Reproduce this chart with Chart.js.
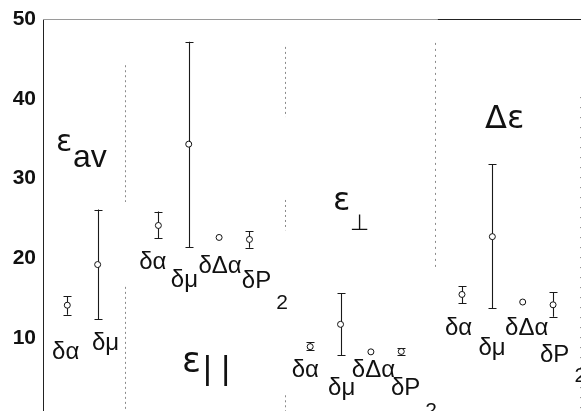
<!DOCTYPE html>
<html><head><meta charset="utf-8">
<script src="https://cdn.jsdelivr.net/npm/chart.js@4"></script>
<style>html,body{margin:0;padding:0;background:#fff}canvas{display:block}</style>
</head><body>
<canvas id="c" width="581" height="411"></canvas>
<script>
// ---------------- data ----------------
const groupNames = ['εav', 'ε||', 'ε⊥', 'Δε'];
const avParams = ['δα', 'δμ'];
const avMean = [14.1, 19.2];
const avLow = [12.9, 12.35];
const avHigh = [15.2, 26.1];
const anisoParams = ['δα', 'δμ', 'δΔα', 'δP2'];
const parMean = [24.1, 34.3, 22.6, 22.35];
const parLow = [22.5, 21.35, null, 21.3];
const parHigh = [25.85, 47.15, null, 23.4];
const perpMean = [8.9, 11.7, 8.25, 8.3];
const perpLow = [8.5, 7.85, null, 7.9];
const perpHigh = [9.5, 15.6, null, 8.7];
const deltaMean = [15.45, 22.7, 14.5, 14.15];
const deltaLow = [14.35, 13.7, null, 12.65];
const deltaHigh = [16.45, 31.75, null, 15.7];
const yTicks = [10, 20, 30, 40, 50];

// ---------------- layout (not data) ----------------
const groups = [
  {params: avParams, mean: avMean, low: avLow, high: avHigh},
  {params: anisoParams, mean: parMean, low: parLow, high: parHigh},
  {params: anisoParams, mean: perpMean, low: perpLow, high: perpHigh},
  {params: anisoParams, mean: deltaMean, low: deltaLow, high: deltaHigh}
];
const pointLabelPos = [
  [-0.50, 7.35, 0], [0.81, 8.48, 0],
  [2.37, 18.58, 0], [3.41, 16.42, 0], [4.32, 18.1, 0], [5.75, 16.3, 21],
  [7.39, 5.13, 0], [8.59, 2.84, 0], [9.37, 5.13, 0], [10.66, 2.84, 22],
  [12.44, 10.36, 0], [13.54, 7.85, 0], [14.42, 10.36, 0], [15.57, 7.01, 20]
];
const GREEK = "'DejaVu Sans', sans-serif";
const titleLayout = [
  {x: -0.37, y: 33.44, main: 'ε', sub: 'av', mainSize: 30, subSize: 32, dx: 17, dy: 16},
  {x: 3.78, y: 5.72, main: 'ε', sub: '| |', mainSize: 35, subSize: 34, dx: 21, dy: 7},
  {x: 8.75, y: 26.04, main: 'ε', sub: '⊥', mainSize: 32, subSize: 22, dx: 17, dy: 20},
  {x: 13.76, y: 36.33, main: 'Δε', sub: '', mainSize: 32, subSize: 20, dx: 0, dy: 0}
];
const separators = [
  {x: 1.90, segs: [[44.2, 27.05], [16.4, 0.83]], dash: [2, 3]},
  {x: 7.17, segs: [[46.5, 37.7], [27.3, 23.5], [2.8, 0.83]], dash: [2, 3]},
  {x: 12.11, segs: [[47.0, 18.9]], dash: [2, 4]},
  {x: 16.89, segs: [[40.2, 0.83]], dash: [1, 9]}
];

const pts = [];
const labels = [];
let slot = 0;
groups.forEach((g) => {
  g.mean.forEach((m, i) => {
    pts.push({x: slot + i, y: m, lo: g.low[i], hi: g.high[i]});
    labels.push(g.params[i]);
  });
  slot += g.mean.length + 1;
});

const FONT = "'Liberation Sans', Arial, sans-serif";

const decor = {
  id: 'decor',
  beforeDatasetsDraw(chart) {
    const {ctx, chartArea: a, scales: {x, y}} = chart;
    ctx.save();
    ctx.strokeStyle = '#8a8a8a';
    ctx.lineWidth = 1;
    separators.forEach(s => {
      ctx.setLineDash(s.dash);
      const px = Math.round(x.getPixelForValue(s.x)) + 0.5;
      s.segs.forEach(([t, b]) => {
        ctx.beginPath();
        ctx.moveTo(px, y.getPixelForValue(t));
        ctx.lineTo(px, y.getPixelForValue(b));
        ctx.stroke();
      });
    });
    ctx.setLineDash([]);
    ctx.strokeStyle = '#9a9a9a';
    ctx.beginPath();
    ctx.moveTo(a.left, a.top + 0.5);
    ctx.lineTo(x.getPixelForValue(12.2), a.top + 0.5);
    ctx.stroke();
    ctx.strokeStyle = '#222';
    ctx.beginPath();
    ctx.moveTo(x.getPixelForValue(12.2), a.top + 0.5);
    ctx.lineTo(a.right, a.top + 0.5);
    ctx.stroke();
    ctx.strokeStyle = '#1a1a1a';
    ctx.lineWidth = 1.1;
    pts.forEach(p => {
      if (p.lo == null || p.hi == null) return;
      const px = Math.round(x.getPixelForValue(p.x)) + 0.5;
      const yl = y.getPixelForValue(p.lo), yh = y.getPixelForValue(p.hi);
      ctx.beginPath();
      ctx.moveTo(px, yl); ctx.lineTo(px, yh);
      ctx.moveTo(px - 4, Math.round(yl) + 0.5); ctx.lineTo(px + 4, Math.round(yl) + 0.5);
      ctx.moveTo(px - 4, Math.round(yh) + 0.5); ctx.lineTo(px + 4, Math.round(yh) + 0.5);
      ctx.stroke();
    });
    ctx.restore();
  },
  afterDraw(chart) {
    const {ctx, scales: {x, y}} = chart;
    ctx.save();
    ctx.fillStyle = '#111';
    ctx.textBaseline = 'alphabetic';
    ctx.textAlign = 'left';
    labels.forEach((t, i) => {
      const [k, v, drop] = pointLabelPos[i];
      const px = x.getPixelForValue(k), py = y.getPixelForValue(v);
      let main = t, sub = '';
      if (/\d$/.test(t)) { main = t.slice(0, -1); sub = t.slice(-1); }
      ctx.font = '24px ' + FONT;
      ctx.fillText(main, px, py);
      if (sub) {
        const w = ctx.measureText(main).width;
        ctx.font = '21px ' + FONT;
        ctx.fillText(sub, px + w + 5, py + drop);
      }
    });
    titleLayout.forEach((t) => {
      const px = x.getPixelForValue(t.x), py = y.getPixelForValue(t.y);
      ctx.font = t.mainSize + 'px ' + GREEK;
      ctx.fillText(t.main, px, py);
      if (t.sub) {
        ctx.font = t.subSize + 'px ' + (t.sub === '⊥' ? GREEK : FONT);
        ctx.fillText(t.sub, px + t.dx, py + t.dy);
      }
    });
    ctx.restore();
  }
};

new Chart(document.getElementById('c'), {
  type: 'scatter',
  data: {
    datasets: [{
      data: pts,
      pointRadius: 3,
      pointHoverRadius: 3,
      pointBackgroundColor: '#fff',
      pointBorderColor: '#111',
      pointBorderWidth: 1
    }]
  },
  options: {
    responsive: false,
    devicePixelRatio: 1,
    animation: false,
    layout: {autoPadding: false, padding: {top: 19, right: 0, bottom: 0, left: 0}},
    plugins: {legend: {display: false}, tooltip: {enabled: false}},
    scales: {
      x: {type: 'linear', min: -0.8, max: 16.92, display: false},
      y: {
        type: 'linear', min: 0.83, max: 50,
        afterFit(s) { s.width = 43; s.paddingTop = 0; s.paddingBottom = 0; },
        afterBuildTicks(s) { s.ticks = yTicks.map(v => ({value: v})); },
        grid: {display: false, drawTicks: false},
        border: {display: true, color: '#222', width: 1},
        ticks: {
          padding: 7,
          color: '#111',
          font: {family: FONT, size: 21, weight: 'bold'}
        }
      }
    }
  },
  plugins: [decor]
});
</script>
</body></html>
